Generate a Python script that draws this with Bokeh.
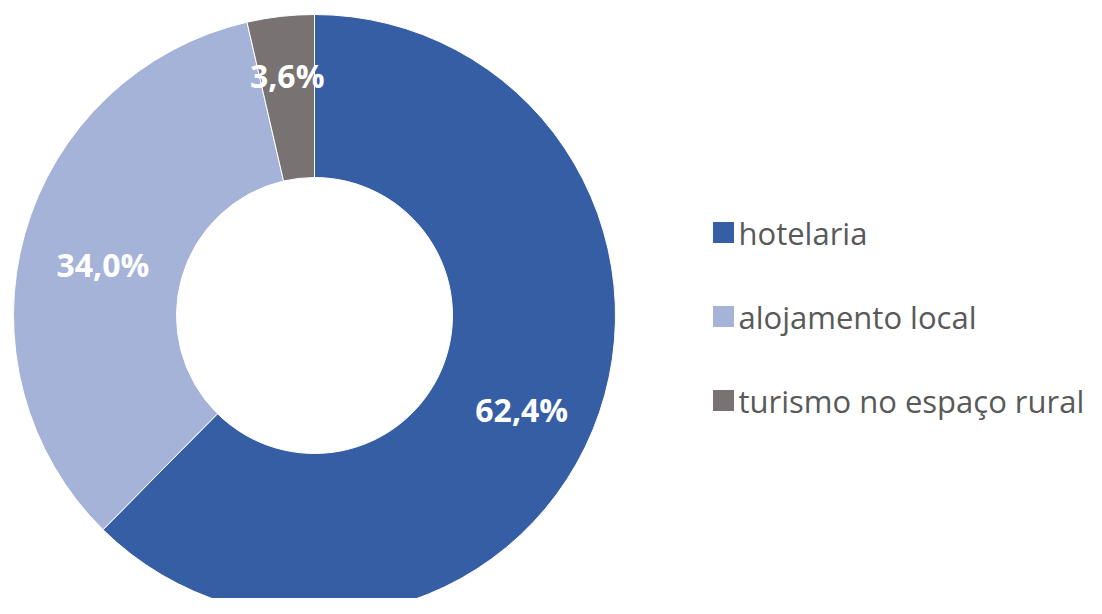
from bokeh.plotting import figure
from bokeh.models import Range1d, ColumnDataSource
from bokeh.core.properties import value
from bokeh.embed import file_html
from bokeh.resources import INLINE
import math

categories = ["hotelaria", "alojamento local", "turismo no espaço rural"]
shares = [62.4, 34.0, 3.6]
labels = ["62,4%", "34,0%", "3,6%"]
colors = ["#365EA4", "#A5B3D9", "#787273"]

W, H = 1086, 598
p = figure(width=W, height=H, output_backend="svg", toolbar_location=None,
           x_range=Range1d(0, W), y_range=Range1d(0, H),
           min_border=0, outline_line_color=None, background_fill_color="white")
p.axis.visible = False
p.grid.visible = False

cx, cy = 314, H - 315
r_in, r_out = 138, 301

total = sum(shares)
starts, ends, mids = [], [], []
acc = 0.0
for s in shares:
    a0 = math.pi / 2 - acc / total * 2 * math.pi
    acc += s
    a1 = math.pi / 2 - acc / total * 2 * math.pi
    starts.append(a0)
    ends.append(a1)
    mids.append((a0 + a1) / 2)

src = ColumnDataSource(dict(start=starts, end=ends, color=colors))
p.annular_wedge(x=cx, y=cy, inner_radius=r_in, outer_radius=r_out,
                start_angle="start", end_angle="end", direction="clock",
                fill_color="color", line_color="white", line_width=1, source=src)

label_r = [224, 220, 242]
label_dy = [-9, -9, 0]
lx = [cx + r * math.cos(m) for r, m in zip(label_r, mids)]
ly = [cy + r * math.sin(m) + d for r, m, d in zip(label_r, mids, label_dy)]
p.text(x=lx, y=ly, text=labels, text_align="center", text_baseline="middle",
       text_color="white", text_font=value("Open Sans"), text_font_style="bold",
       text_font_size="32px")

# legend
leg_y0 = H - 232
leg_step = 84
ly_leg = [leg_y0 - i * leg_step for i in range(len(categories))]
p.rect(x=[723] * len(categories), y=ly_leg, width=21, height=21,
       width_units="screen", height_units="screen",
       fill_color=colors, line_color=None)
p.text(x=[738] * len(categories), y=ly_leg, text=categories, text_align="left",
       text_baseline="middle", text_color="#595959",
       text_font=value("Open Sans"), text_font_size="31px")

open("out.html", "w").write(file_html(p, INLINE))
